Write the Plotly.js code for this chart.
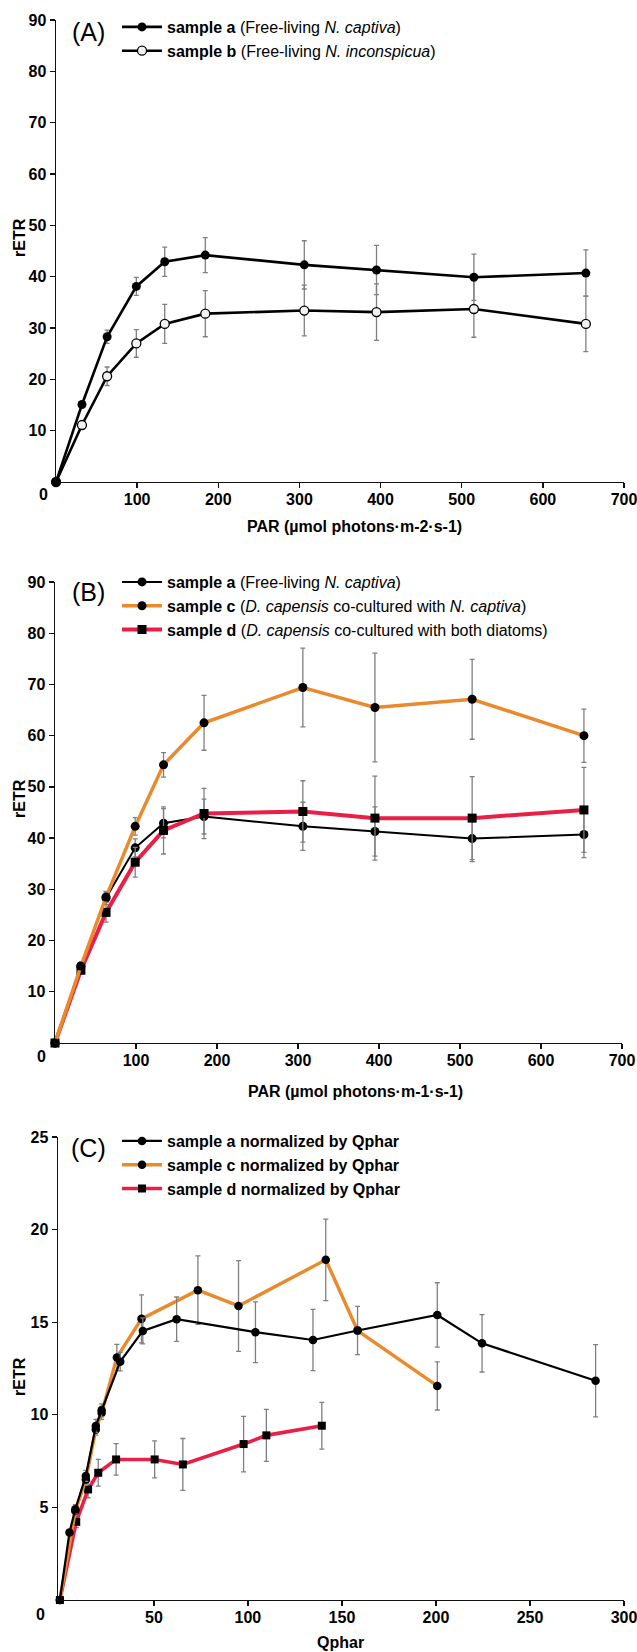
<!DOCTYPE html>
<html>
<head>
<meta charset="utf-8">
<script src="https://cdn.plot.ly/plotly-3.0.1.min.js"></script>
<style>html,body{margin:0;padding:0;background:#fff}#chart{width:637px;height:1652px}</style>
</head>
<body>
<div id="chart"></div>
<script>
// ---------- data ----------
// Panel A & B : PAR levels
const parLevels = [0, 32, 63, 99, 134, 184, 306, 395, 515, 653];
const sampleA = [0, 15.1, 28.3, 38.1, 42.9, 44.2, 42.3, 41.3, 39.9, 40.7];
const sampleAErr = [null, 0.4, 1.3, 1.75, 2.85, 3.4, 4.7, 4.8, 4.5, 4.5];
const sampleB = [0, 11.1, 20.6, 27.0, 30.8, 32.8, 33.4, 33.1, 33.7, 30.8];
const sampleBErr = [null, 0.4, 1.8, 2.7, 3.8, 4.5, 4.95, 5.5, 5.5, 5.4];
const sampleC = [0, 15.0, 28.5, 42.3, 54.3, 62.5, 69.4, 65.5, 67.1, 60.0];
const sampleCErr = [null, 0.4, 1.0, 1.7, 2.4, 5.35, 7.7, 10.6, 7.8, 5.2];
const sampleD = [0, 14.2, 25.5, 35.3, 41.5, 44.8, 45.2, 43.9, 43.9, 45.5];
const sampleDErr = [null, 0.5, 1.9, 2.9, 4.6, 4.9, 6.0, 8.2, 8.1, 8.3];

// Panel C : normalized by Qphar
const qpharA = [0, 5.1, 8.2, 13.8, 19.1, 22.2, 32.1, 44.1, 62.1, 104, 134.6, 158.3, 200.7, 224.5, 284.9];
const normA = [0, 3.65, 4.9, 6.7, 9.4, 10.24, 12.87, 14.53, 15.16, 14.46, 14.04, 14.55, 15.39, 13.86, 11.84];
const normAErr = [null, 0.15, 0.25, 0.3, 0.35, 0.35, 0.5, 0.7, 1.2, 1.64, 1.65, 1.3, 1.74, 1.55, 1.95];
const qpharC = [0, 8.2, 13.8, 19.1, 22.2, 30.3, 43.4, 73.4, 95.0, 141.4, 158.3, 200.7];
const normC = [0, 4.8, 6.5, 9.2, 10.1, 13.1, 15.18, 16.73, 15.88, 18.37, 14.55, 11.56];
const normCErr = [null, 0.2, 0.3, 0.3, 0.35, 0.7, 1.3, 1.85, 2.45, 2.2, null, 1.3];
const qpharD = [0, 8.7, 15.0, 20.4, 29.9, 50.4, 65.4, 97.7, 109.8, 139.3];
const normD = [0, 4.22, 5.97, 6.87, 7.59, 7.59, 7.32, 8.42, 8.89, 9.41];
const normDErr = [null, 0.3, 0.45, 0.72, 0.85, 1.0, 1.4, 1.5, 1.4, 1.26];

const xTicksPAR = [100, 200, 300, 400, 500, 600, 700];
const yTicksAB = [10, 20, 30, 40, 50, 60, 70, 80, 90];
const xTicksQ = [50, 100, 150, 200, 250, 300];
const yTicksC = [5, 10, 15, 20, 25];

const nameA = '<b>sample a</b> (Free-living <i>N. captiva</i>)';
const nameB = '<b>sample b</b> (Free-living <i>N. inconspicua</i>)';
const nameC = '<b>sample c</b> (<i>D. capensis</i> co-cultured with <i>N. captiva</i>)';
const nameD = '<b>sample d</b> (<i>D. capensis</i> co-cultured with both diatoms)';
const nameCa = '<b>sample a normalized by Qphar</b>';
const nameCc = '<b>sample c normalized by Qphar</b>';
const nameCd = '<b>sample d normalized by Qphar</b>';

// ---------- styling ----------
const W = 637, H = 1652;
const FONT = 'Liberation Sans, Arial, Helvetica, sans-serif';
const ORANGE = '#E98A2C';
const RED = '#EA1F45';
const ERR = (arr) => ({type: 'data', array: arr, visible: true, color: '#808080', thickness: 1.3, width: 2.5});
const px = v => v / W;
const py = v => 1 - v / H;

const traces = [
  // Panel A
  {x: parLevels, y: sampleB, error_y: ERR(sampleBErr), name: nameB, mode: 'lines+markers',
   line: {color: '#000', width: 2.6}, marker: {symbol: 'circle', size: 9, color: '#f2f2f2', line: {color: '#000', width: 1.3}},
   xaxis: 'x', yaxis: 'y', legend: 'legend', legendrank: 2, cliponaxis: false},
  {x: parLevels, y: sampleA, error_y: ERR(sampleAErr), name: nameA, mode: 'lines+markers',
   line: {color: '#000', width: 2.6}, marker: {symbol: 'circle', size: 9, color: '#000'},
   xaxis: 'x', yaxis: 'y', legend: 'legend', legendrank: 1, cliponaxis: false},
  // Panel B
  {x: parLevels, y: sampleA, error_y: ERR(sampleAErr), name: nameA, mode: 'lines+markers',
   line: {color: '#000', width: 2}, marker: {symbol: 'circle', size: 9, color: '#000'},
   xaxis: 'x2', yaxis: 'y2', legend: 'legend2', legendrank: 1, cliponaxis: false},
  {x: parLevels, y: sampleD, error_y: ERR(sampleDErr), name: nameD, mode: 'lines+markers',
   line: {color: RED, width: 4}, marker: {symbol: 'square', size: 9, color: '#000'},
   xaxis: 'x2', yaxis: 'y2', legend: 'legend2', legendrank: 3, cliponaxis: false},
  {x: parLevels, y: sampleC, error_y: ERR(sampleCErr), name: nameC, mode: 'lines+markers',
   line: {color: ORANGE, width: 3.5}, marker: {symbol: 'circle', size: 9, color: '#000'},
   xaxis: 'x2', yaxis: 'y2', legend: 'legend2', legendrank: 2, cliponaxis: false},
  // Panel C
  {x: qpharD, y: normD, error_y: ERR(normDErr), name: nameCd, mode: 'lines+markers',
   line: {color: RED, width: 3.6}, marker: {symbol: 'square', size: 8, color: '#000'},
   xaxis: 'x3', yaxis: 'y3', legend: 'legend3', legendrank: 3, cliponaxis: false},
  {x: qpharC, y: normC, error_y: ERR(normCErr), name: nameCc, mode: 'lines+markers',
   line: {color: ORANGE, width: 3.4}, marker: {symbol: 'circle', size: 8.5, color: '#000'},
   xaxis: 'x3', yaxis: 'y3', legend: 'legend3', legendrank: 2, cliponaxis: false},
  {x: qpharA, y: normA, error_y: ERR(normAErr), name: nameCa, mode: 'lines+markers',
   line: {color: '#000', width: 2.2}, marker: {symbol: 'circle', size: 8.5, color: '#000'},
   xaxis: 'x3', yaxis: 'y3', legend: 'legend3', legendrank: 1, cliponaxis: false}
];

const tickFont = {family: FONT, size: 16, color: '#000', weight: 'bold'};
function xAx(dom, range, vals, anchor) {
  return {domain: dom, range: range, tickvals: vals, ticktext: vals.map(String), anchor: anchor,
    showline: true, linecolor: '#111', linewidth: 1.4, ticks: 'outside', ticklen: 5, tickwidth: 1.3, tickcolor: '#111',
    showgrid: false, zeroline: false, tickfont: tickFont, fixedrange: true, ticklabeloverflow: 'allow',
    ticklabelstandoff: -3, automargin: false};
}
function yAx(dom, range, vals, anchor) {
  return {domain: dom, range: range, tickvals: vals, ticktext: vals.map(String), anchor: anchor,
    showline: true, linecolor: '#111', linewidth: 1.4, ticks: 'outside', ticklen: 5, tickwidth: 1.3, tickcolor: '#111',
    showgrid: false, zeroline: false, tickfont: tickFont, fixedrange: true, ticklabeloverflow: 'allow', automargin: false};
}

const legendBase = (x, yTop) => ({x: px(x), y: py(yTop), xanchor: 'left', yanchor: 'top', xref: 'paper', yref: 'paper',
  bgcolor: 'rgba(0,0,0,0)', borderwidth: 0, itemwidth: 40, traceorder: 'normal',
  font: {family: FONT, size: 16, color: '#000'}, itemclick: false, itemdoubleclick: false});

function ann(text, x, y, opts) {
  return Object.assign({text: text, x: px(x), y: py(y), xref: 'paper', yref: 'paper', showarrow: false,
    xanchor: 'center', yanchor: 'middle', font: {family: FONT, size: 16, color: '#000'}}, opts || {});
}

const annotations = [
  ann('(A)', 88, 32, {font: {family: FONT, size: 25, color: '#000'}}),
  ann('(B)', 88, 592, {font: {family: FONT, size: 25, color: '#000'}}),
  ann('(C)', 88, 1148, {font: {family: FONT, size: 25, color: '#000'}}),
  ann('<b>rETR</b>', 19, 238, {textangle: -90}),
  ann('<b>rETR</b>', 19, 799, {textangle: -90}),
  ann('<b>rETR</b>', 19, 1377, {textangle: -90}),
  ann('<b>PAR (µmol photons·m-2·s-1)</b>', 354, 526),
  ann('<b>PAR (µmol photons·m-1·s-1)</b>', 355, 1091),
  ann('<b>Qphar</b>', 341, 1642),
  ann('<b>0</b>', 43, 495),
  ann('<b>0</b>', 41, 1056),
  ann('<b>0</b>', 40, 1614)
];

const layout = {
  width: W, height: H,
  margin: {l: 0, r: 0, t: 0, b: 0},
  paper_bgcolor: '#fff', plot_bgcolor: '#fff',
  font: {family: FONT, size: 16, color: '#000'},
  showlegend: true,
  xaxis: xAx([px(56), px(624)], [0, 700], xTicksPAR, 'y'),
  yaxis: yAx([py(482), py(20)], [0, 90], yTicksAB, 'x'),
  xaxis2: xAx([px(55), px(622)], [0, 700], xTicksPAR, 'y2'),
  yaxis2: yAx([py(1043), py(582)], [0, 90], yTicksAB, 'x2'),
  xaxis3: xAx([px(58), px(624)], [-1, 300], xTicksQ, 'y3'),
  yaxis3: yAx([py(1600), py(1137)], [0, 25], yTicksC, 'x3'),
  legend: legendBase(117, 10),
  legend2: legendBase(117, 565),
  legend3: legendBase(117, 1124),
  annotations: annotations
};

Plotly.newPlot('chart', traces, layout, {staticPlot: true, displayModeBar: false});
</script>
</body>
</html>
